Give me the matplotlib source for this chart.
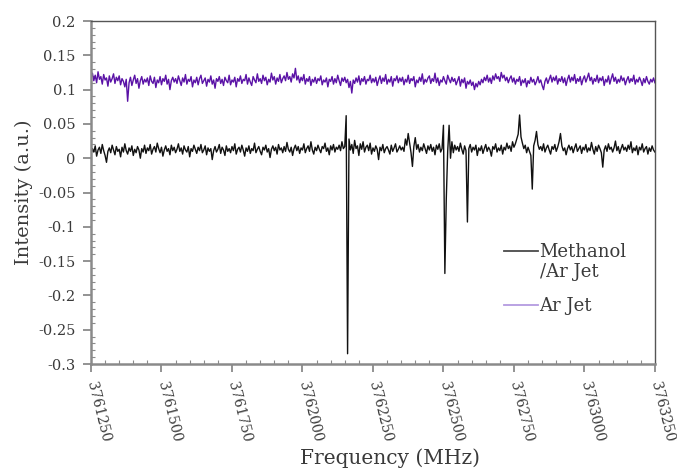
import numpy as np
import matplotlib.pyplot as plt
from matplotlib.lines import Line2D
from matplotlib.ticker import MultipleLocator

# frequency grid (MHz), one reading every 5 MHz
freq_start = 3761250
freq_step = 5

methanol = [
    0.006, 0.014, 0.009, 0.018, 0.003, 0.012, 0.016, 0.007, 0.020, 0.011, 0.004, -0.006, 0.010, 0.015, 0.008, 0.019, 0.012, 0.005, 0.017, 0.010,
    0.013, 0.002, 0.016, 0.009, 0.021, 0.011, 0.006, 0.015, 0.010, 0.018, 0.004, 0.013, 0.008, 0.017, 0.012, 0.000, 0.014, 0.009, 0.019, 0.007,
    0.015, 0.011, 0.020, 0.006, 0.013, 0.017, 0.009, 0.022, 0.014, 0.008, 0.016, 0.003, 0.012, 0.018, 0.010, 0.014, 0.005, 0.019, 0.011, 0.016,
    0.008, 0.013, 0.021, 0.010, 0.015, 0.006, 0.018, 0.012, 0.009, 0.017, 0.002, 0.014, 0.010, 0.019, 0.013, 0.007, 0.016, 0.011, 0.020, 0.008,
    0.012, 0.018, 0.005, 0.015, 0.010, 0.014, -0.002, 0.011, 0.017, 0.009, 0.013, 0.020, 0.007, 0.016, 0.012, 0.004, 0.018, 0.010, 0.014, 0.008,
    0.017, 0.011, 0.021, 0.006, 0.013, 0.016, 0.009, 0.019, 0.012, 0.003, 0.015, 0.010, 0.018, 0.007, 0.014, 0.011, 0.022, 0.008, 0.013, 0.017,
    0.010, 0.005, 0.016, 0.012, 0.019, 0.009, 0.014, 0.001, 0.013, 0.018, 0.011, 0.016, 0.006, 0.020, 0.012, 0.015, 0.008, 0.017, 0.010, 0.023,
    0.013, 0.009, 0.016, 0.004, 0.014, 0.019, 0.011, 0.017, 0.007, 0.015, 0.012, 0.021, 0.008, 0.014, 0.018, 0.010, 0.024, 0.012, 0.006, 0.016,
    0.011, 0.019, 0.013, 0.008, 0.017, 0.014, 0.022, 0.010, 0.015, 0.005, 0.018, 0.012, 0.020, 0.009, 0.016, 0.013, 0.019, 0.011, 0.024, 0.014,
    0.017, 0.062, -0.285, 0.028, 0.012, 0.020, 0.007, 0.026, 0.014, 0.018, 0.004, 0.021, 0.013, 0.024, 0.009, 0.016, 0.019, 0.011, 0.022, 0.006,
    0.015, 0.010, 0.018, 0.013, -0.002, 0.016, 0.011, 0.020, 0.008, 0.014, 0.017, 0.012, 0.006, 0.019, 0.010, 0.015, 0.021, 0.009, 0.013, 0.018,
    0.012, 0.016, 0.010, 0.028, 0.019, 0.036, 0.022, 0.008, -0.012, 0.017, 0.030, 0.013, 0.020, 0.009, 0.016, 0.011, 0.021, 0.014, 0.007, 0.018,
    0.012, 0.020, 0.010, 0.016, 0.005, 0.019, 0.013, 0.021, 0.009, 0.014, 0.048, -0.168, -0.060, 0.010, 0.048, 0.000, 0.024, 0.008, 0.019, 0.012,
    0.017, 0.010, 0.022, 0.013, 0.006, 0.018, 0.011, -0.093, 0.014, 0.020, 0.009, 0.016, 0.012, 0.019, 0.004, 0.015, 0.011, 0.018, 0.007, 0.014,
    0.020, 0.010, 0.016, 0.012, 0.003, 0.017, 0.013, 0.021, 0.009, 0.015, 0.011, 0.019, 0.006, 0.016, 0.012, 0.022, 0.014, 0.018, 0.010, 0.024,
    0.016, 0.021, 0.028, 0.035, 0.063, 0.031, 0.022, 0.014, 0.019, 0.008, 0.016, 0.010, 0.004, -0.045, 0.018, 0.026, 0.039, 0.020, 0.013, 0.017,
    0.011, 0.021, 0.009, 0.015, 0.019, 0.012, 0.006, 0.017, 0.013, 0.020, 0.010, 0.016, 0.024, 0.036, 0.018, 0.011, 0.015, 0.005, 0.014, 0.019,
    0.012, 0.017, 0.008, 0.015, 0.021, 0.010, 0.014, 0.018, 0.007, 0.016, 0.012, 0.020, 0.009, 0.015, 0.011, 0.023, 0.013, 0.006, 0.017, 0.010,
    0.019, 0.014, 0.008, -0.013, 0.012, 0.018, 0.010, 0.021, 0.013, 0.016, 0.009, 0.015, 0.025, 0.011, 0.017, 0.007, 0.014, 0.020, 0.012, 0.016,
    0.010, 0.019, 0.013, 0.024, 0.008, 0.015, 0.011, 0.018, 0.005, 0.016, 0.012, 0.021, 0.009, 0.014, 0.017, 0.006, 0.015, 0.010, 0.018, 0.012,
    0.009,
]

ar_jet = [
    0.118, 0.124, 0.113, 0.121, 0.110, 0.126, 0.115, 0.119, 0.108, 0.122, 0.114, 0.117, 0.105, 0.120, 0.111, 0.116, 0.123, 0.109, 0.118, 0.113,
    0.120, 0.107, 0.116, 0.112, 0.104, 0.115, 0.083, 0.110, 0.118, 0.106, 0.114, 0.121, 0.109, 0.116, 0.102, 0.113, 0.119, 0.108, 0.115, 0.111,
    0.117, 0.106, 0.120, 0.112, 0.109, 0.118, 0.103, 0.114, 0.110, 0.119, 0.107, 0.116, 0.112, 0.121, 0.108, 0.115, 0.100, 0.113, 0.118, 0.111,
    0.116, 0.109, 0.120, 0.113, 0.106, 0.117, 0.111, 0.122, 0.108, 0.115, 0.112, 0.119, 0.104, 0.114, 0.110, 0.118, 0.107, 0.116, 0.121, 0.109,
    0.113, 0.117, 0.105, 0.115, 0.111, 0.120, 0.108, 0.114, 0.102, 0.116, 0.112, 0.119, 0.109, 0.115, 0.106, 0.118, 0.113, 0.110, 0.121, 0.107,
    0.114, 0.111, 0.118, 0.104, 0.116, 0.112, 0.120, 0.109, 0.115, 0.113, 0.122, 0.108, 0.117, 0.111, 0.106, 0.119, 0.114, 0.110, 0.123, 0.112,
    0.116, 0.109, 0.121, 0.113, 0.118, 0.107, 0.115, 0.111, 0.124, 0.114, 0.119, 0.108, 0.117, 0.112, 0.122, 0.110, 0.116, 0.120, 0.113, 0.125,
    0.115, 0.119, 0.111, 0.123, 0.117, 0.131, 0.114, 0.120, 0.110, 0.118, 0.113, 0.122, 0.108, 0.116, 0.112, 0.119, 0.106, 0.115, 0.111, 0.118,
    0.109, 0.116, 0.113, 0.120, 0.107, 0.114, 0.111, 0.117, 0.104, 0.115, 0.112, 0.119, 0.108, 0.116, 0.110, 0.121, 0.113, 0.106, 0.117, 0.112,
    0.118, 0.110, 0.115, 0.103, 0.112, 0.095, 0.114, 0.109, 0.117, 0.111, 0.120, 0.107, 0.116, 0.112, 0.119, 0.108, 0.115, 0.113, 0.121, 0.110,
    0.116, 0.111, 0.118, 0.106, 0.114, 0.120, 0.109, 0.117, 0.112, 0.122, 0.108, 0.115, 0.111, 0.119, 0.105, 0.116, 0.113, 0.120, 0.110, 0.117,
    0.112, 0.118, 0.107, 0.115, 0.111, 0.121, 0.109, 0.116, 0.113, 0.119, 0.104, 0.114, 0.110, 0.118, 0.112, 0.123, 0.108, 0.115, 0.111, 0.117,
    0.120, 0.109, 0.116, 0.112, 0.124, 0.110, 0.117, 0.106, 0.114, 0.111, 0.119, 0.113, 0.108, 0.121, 0.115, 0.110, 0.118, 0.112, 0.116, 0.107,
    0.113, 0.119, 0.105, 0.115, 0.110, 0.117, 0.102, 0.112, 0.108, 0.114, 0.106, 0.111, 0.100, 0.109, 0.104, 0.112, 0.107, 0.115, 0.110, 0.118,
    0.113, 0.121, 0.111, 0.117, 0.109, 0.120, 0.114, 0.123, 0.116, 0.119, 0.112, 0.125, 0.117, 0.121, 0.113, 0.118, 0.110, 0.116, 0.120, 0.111,
    0.117, 0.108, 0.115, 0.112, 0.119, 0.106, 0.114, 0.110, 0.116, 0.104, 0.113, 0.109, 0.118, 0.111, 0.115, 0.107, 0.112, 0.119, 0.110, 0.114,
    0.106, 0.100, 0.112, 0.117, 0.109, 0.115, 0.121, 0.111, 0.118, 0.113, 0.120, 0.108, 0.116, 0.112, 0.119, 0.110, 0.117, 0.106, 0.115, 0.121,
    0.111, 0.118, 0.113, 0.122, 0.109, 0.116, 0.112, 0.119, 0.107, 0.115, 0.120, 0.111, 0.117, 0.124, 0.113, 0.118, 0.108, 0.116, 0.112, 0.121,
    0.110, 0.117, 0.113, 0.119, 0.106, 0.115, 0.111, 0.120, 0.108, 0.116, 0.123, 0.112, 0.118, 0.109, 0.115, 0.111, 0.120, 0.113, 0.117, 0.107,
    0.114, 0.119, 0.110, 0.116, 0.112, 0.121, 0.108, 0.115, 0.111, 0.118, 0.113, 0.106, 0.116, 0.110, 0.119, 0.112, 0.108, 0.115, 0.111, 0.117,
    0.110,
]

xticks = [3761250, 3761500, 3761750, 3762000, 3762250, 3762500, 3762750, 3763000, 3763250]
yticks = [0.2, 0.15, 0.1, 0.05, 0, -0.05, -0.1, -0.15, -0.2, -0.25, -0.3]
ytick_labels = ['0.2', '0.15', '0.1', '0.05', '0', '-0.05', '-0.1', '-0.15', '-0.2', '-0.25', '-0.3']

freq_m = freq_start + freq_step * np.arange(len(methanol))
freq_a = freq_start + freq_step * np.arange(len(ar_jet))

plt.rcParams['font.family'] = 'DejaVu Serif'
text_col = '#3a3a3a'
purple = '#5a12a6'

fig = plt.figure(figsize=(6.77, 4.70), dpi=100)
ax = fig.add_axes([0.1344, 0.2255, 0.833, 0.7298])

ax.plot(freq_m, methanol, color='#111111', linewidth=1.0)
ax.plot(freq_a, ar_jet, color=purple, linewidth=1.0)

ax.set_xlim(xticks[0], xticks[-1])
ax.set_ylim(-0.3, 0.2)
ax.set_xticks(xticks)
ax.set_xticklabels([str(t) for t in xticks], rotation=-76, ha='left', va='center',
                   rotation_mode='anchor', fontsize=10, color=text_col)
ax.set_yticks(yticks)
ax.set_yticklabels(ytick_labels, fontsize=10.5, color=text_col)
ax.xaxis.set_minor_locator(MultipleLocator(50))
ax.yaxis.set_minor_locator(MultipleLocator(0.01))

ax.tick_params(which='major', direction='out', length=6, width=1.3, color='#8a8a8a', pad=5)
ax.tick_params(which='minor', direction='in', length=3, width=0.8, color='#8a8a8a')
ax.tick_params(axis='x', which='major', pad=7)

for side in ['left', 'bottom']:
    ax.spines[side].set_color('#8a8a8a')
    ax.spines[side].set_linewidth(1.8)
for side in ['top', 'right']:
    ax.spines[side].set_color('#555555')
    ax.spines[side].set_linewidth(1.0)

ax.set_ylabel('Intensity (a.u.)', fontsize=14, color=text_col, labelpad=4)
ax.set_xlabel('Frequency (MHz)', fontsize=14.5, color=text_col)
ax.xaxis.set_label_coords(0.53, -0.245)

# legend: two-line label for the first series, handle next to the first line
leg_kw = dict(frameon=False, fontsize=13, handlelength=1.85, handletextpad=0.1,
              labelcolor=text_col, borderpad=0, borderaxespad=0)
leg1 = ax.legend([Line2D([], [], color='#4a4a4a', linewidth=1.3),
                  Line2D([], [], color='none')],
                 ['Methanol', '/Ar Jet'], loc='center left',
                 bbox_to_anchor=(0.733, 0.298), labelspacing=0.1, **leg_kw)
ax.add_artist(leg1)
ax.legend([Line2D([], [], color='#b49be0', linewidth=1.3)], ['Ar Jet'],
          loc='center left', bbox_to_anchor=(0.733, 0.169), **leg_kw)

plt.savefig('out.png', dpi=100)
plt.close(fig)
